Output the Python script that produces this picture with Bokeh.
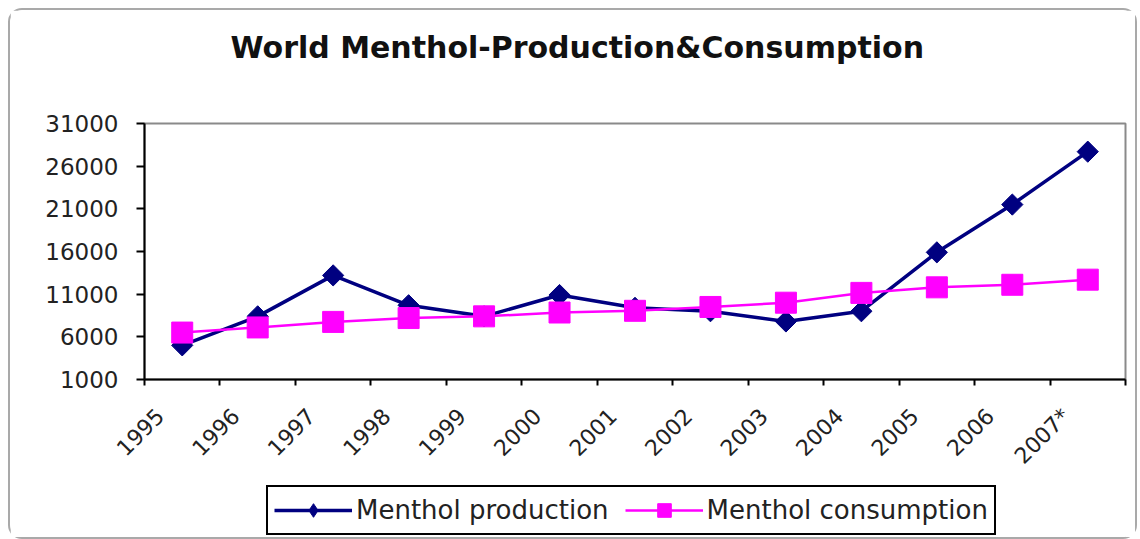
import math
from bokeh.plotting import figure
from bokeh.layouts import column
from bokeh.models import Range1d, FixedTicker, Legend, LegendItem, Title
from bokeh.embed import file_html
from bokeh.resources import INLINE

years = ["1995", "1996", "1997", "1998", "1999", "2000", "2001",
         "2002", "2003", "2004", "2005", "2006", "2007*"]
production = [5000, 8400, 13200, 9700, 8400, 10900, 9400,
              9000, 7800, 9000, 15900, 21500, 27700]
consumption = [6500, 7100, 7750, 8200, 8400, 8850, 9050,
               9500, 10000, 11150, 11800, 12100, 12700]
y_ticks = [1000, 6000, 11000, 16000, 21000, 26000, 31000]
title_text = "World Menthol-Production&Consumption"
series_names = ["Menthol production", "Menthol consumption"]

FONT = "DejaVu Sans"
NAVY = "#000080"
MAGENTA = "#ff00ff"

n = len(years)
xs = [i + 0.5 for i in range(n)]           # points sit between the tick marks
label_pos = [i + 0.21 for i in range(n)]   # labels anchored near the left tick
tick_marks = list(range(n + 1))

W = 1125
p = figure(width=W, height=470, output_backend="svg", toolbar_location=None,
           x_range=Range1d(0, n), y_range=Range1d(y_ticks[0], y_ticks[-1]),
           min_border_left=134, min_border_right=10, min_border_top=113,
           min_border_bottom=101)
p.background_fill_color = "white"
p.border_fill_color = "white"
p.outline_line_color = "#8a8a8a"
p.outline_line_width = 2
p.grid.visible = False

# spacer between frame and title (first item of 'above' sits next to the frame)
p.add_layout(Title(text=" ", text_font_size="1px", standoff=51), "above")
p.title = Title(text=title_text, align="left", offset=86, vertical_align="bottom",
                text_font=FONT, text_font_style="bold", text_font_size="30px",
                text_color="#111111", standoff=10)

# y axis
ya = p.yaxis[0]
ya.ticker = FixedTicker(ticks=y_ticks)
ya.major_label_overrides = {v: str(v) for v in y_ticks}
ya.major_label_text_font = FONT
ya.major_label_text_font_size = "23px"
ya.major_label_text_color = "#222222"
ya.major_tick_out = 8
ya.major_tick_in = 0
ya.major_tick_line_color = "black"
ya.major_tick_line_width = 2
ya.minor_tick_line_color = None
ya.axis_line_color = "black"
ya.axis_line_width = 2
ya.major_label_standoff = 18

# x axis: labels near the left tick of each category, tick marks between categories
xa = p.xaxis[0]
xa.ticker = FixedTicker(ticks=label_pos, minor_ticks=tick_marks)
xa.major_label_overrides = {pos: lab for pos, lab in zip(label_pos, years)}
xa.major_label_orientation = math.pi / 4
xa.major_label_text_font = FONT
xa.major_label_text_font_size = "22px"
xa.major_label_text_color = "#222222"
xa.major_label_standoff = 27
xa.major_tick_line_color = None
xa.major_tick_out = 0
xa.major_tick_in = 0
xa.minor_tick_line_color = "black"
xa.minor_tick_line_width = 2
xa.minor_tick_out = 6
xa.minor_tick_in = 0
xa.axis_line_color = "black"
xa.axis_line_width = 2

p.line(xs, production, line_color=NAVY, line_width=3.5)
p.scatter(xs, production, marker="square", angle=math.pi / 4, size=15,
          fill_color=NAVY, line_color=NAVY)
p.line(xs, consumption, line_color=MAGENTA, line_width=2.5)
p.scatter(xs, consumption, marker="square", size=21,
          fill_color=MAGENTA, line_color=MAGENTA)

# legend strip underneath; its renderers hold the same series but lie outside
# the strip's (hidden) ranges, so only their legend swatches are seen.
# (its frame is aligned with the main frame by the column layout)
p2 = figure(width=W, height=57, output_backend="svg", toolbar_location=None,
            x_axis_type=None, y_axis_type=None, min_border=0,
            x_range=Range1d(0, 1), y_range=Range1d(-2, -1))
p2.outline_line_color = None
p2.background_fill_color = "white"
p2.border_fill_color = "white"
lg1 = p2.line(xs, production, line_color=NAVY, line_width=3.5)
lg1m = p2.scatter(xs, production, marker="diamond", fill_color=NAVY, line_color=NAVY)
lg2 = p2.line(xs, consumption, line_color=MAGENTA, line_width=2.5)
lg2m = p2.scatter(xs, consumption, marker="square", fill_color=MAGENTA,
                  line_color=MAGENTA)

legend = Legend(items=[LegendItem(label=series_names[0], renderers=[lg1, lg1m]),
                       LegendItem(label=series_names[1], renderers=[lg2, lg2m])],
                orientation="horizontal", location=(122, 2),
                label_text_font=FONT, label_text_font_size="26px",
                label_text_color="#222222",
                glyph_width=78, glyph_height=34, label_standoff=4, spacing=16,
                padding=6, margin=0,
                border_line_color="black", border_line_width=2, border_line_alpha=1,
                background_fill_color="white", background_fill_alpha=1)
p2.add_layout(legend)

layout = column(p, p2, spacing=0,
                styles={"border": "2px solid #a9a9a9", "border-radius": "14px",
                        "margin-left": "8px", "margin-top": "8px",
                        "background": "white"})

open("out.html", "w").write(file_html(layout, INLINE))
